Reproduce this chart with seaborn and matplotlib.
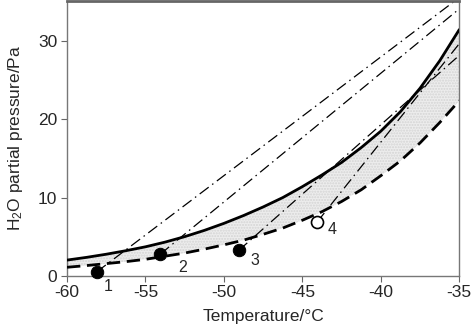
import numpy as np
import pandas as pd
import matplotlib
matplotlib.use("Agg")
import matplotlib.pyplot as plt
import seaborn as sns

# ---- data ----
temp = [-60, -58.75, -57.5, -56.25, -55, -53.75, -52.5, -51.25, -50, -48.75,
        -47.5, -46.25, -45, -43.75, -42.5, -41.25, -40, -38.75, -37.5, -36.25, -35]
p_liquid = [2.0, 2.35, 2.75, 3.2, 3.7, 4.3, 5.0, 5.8, 6.7, 7.7,
            8.8, 10.0, 11.4, 12.9, 14.5, 16.4, 18.5, 21.0, 24.0, 27.5, 31.5]
p_ice = [1.08, 1.3, 1.55, 1.8, 2.1, 2.5, 2.9, 3.4, 3.95, 4.55,
         5.3, 6.1, 7.1, 8.2, 9.5, 11.0, 12.8, 14.7, 17.0, 19.6, 22.4]

pt_T = [-58.1, -54.05, -49.05, -44.05]
pt_P = [0.5, 2.77, 3.25, 6.9]
pt_label = ["1", "2", "3", "4"]
pt_filled = [True, True, True, False]
end_T = [-35.0, -35.0, -35.0, -35.0]
end_P = [35.6, 34.15, 28.2, 29.7]

xticks = [-60, -55, -50, -45, -40, -35]
yticks = [0, 10, 20, 30]

# ---- styling ----
sns.set_theme(style="ticks")
plt.rcParams["font.family"] = ["Liberation Sans", "DejaVu Sans"]
plt.rcParams["mathtext.default"] = "regular"

fig = plt.figure(figsize=(4.74, 3.30), dpi=100)
ax = fig.add_axes([0.1414, 0.1645, 0.969 - 0.1414, 0.998 - 0.1645])

curves = pd.DataFrame({"T": temp, "liq": p_liquid, "ice": p_ice})

ax.fill_between(curves["T"], curves["ice"], curves["liq"], facecolor="#ededed",
                edgecolor="#d4d4d4", hatch="......", linewidth=0, zorder=1)

sns.lineplot(data=curves, x="T", y="liq", ax=ax, color="black", lw=2.0,
             sort=False, estimator=None, zorder=3)
sns.lineplot(data=curves, x="T", y="ice", ax=ax, color="black", lw=2.0,
             sort=False, estimator=None, zorder=3, dashes=False)
ax.lines[-1].set_linestyle((0, (4.8, 2.4)))

for t0, p0, t1, p1 in zip(pt_T, pt_P, end_T, end_P):
    seg = pd.DataFrame({"T": [t0, t1], "P": [p0, p1]})
    sns.lineplot(data=seg, x="T", y="P", ax=ax, color="black", lw=0.9,
                 sort=False, estimator=None, zorder=2)
    ax.lines[-1].set_linestyle((0, (9, 3.5, 1.2, 3.5)))

pts = pd.DataFrame({"T": pt_T, "P": pt_P, "filled": pt_filled})
sns.scatterplot(data=pts[pts["filled"]], x="T", y="P", ax=ax, s=80,
                color="black", edgecolor="black", zorder=5, clip_on=False)
sns.scatterplot(data=pts[~pts["filled"]], x="T", y="P", ax=ax, s=75,
                facecolor="white", edgecolor="black", linewidth=1.2, zorder=5)

offsets = [(11, -15), (22, -13), (16, -10), (15, -8)]
for t, p, lab, off in zip(pt_T, pt_P, pt_label, offsets):
    ax.annotate(lab, (t, p), xytext=off, textcoords="offset pixels",
                ha="center", va="center", fontsize=11.5, annotation_clip=False)

ax.set_xlim(-60, -35)
ax.set_ylim(0, 35.2)
ax.set_xticks(xticks)
ax.set_yticks(yticks)
ax.set_xticklabels([str(v) for v in xticks])
ax.set_yticklabels([str(v) for v in yticks])
ax.tick_params(axis="both", labelsize=12.5, length=4, width=0.8, color="#666666",
               direction="out", pad=3)
for side in ["left", "right", "bottom"]:
    ax.spines[side].set_visible(True)
    ax.spines[side].set_color("#777777")
    ax.spines[side].set_linewidth(1.0)
ax.spines["top"].set_visible(True)
ax.spines["top"].set_color("#666666")
ax.spines["top"].set_linewidth(2.0)

ax.set_xlabel("Temperature/°C", fontsize=12.5, labelpad=6)
ax.set_ylabel("H$_2$O partial pressure/Pa", fontsize=12.5, labelpad=9)

fig.savefig("out.png", dpi=100)
